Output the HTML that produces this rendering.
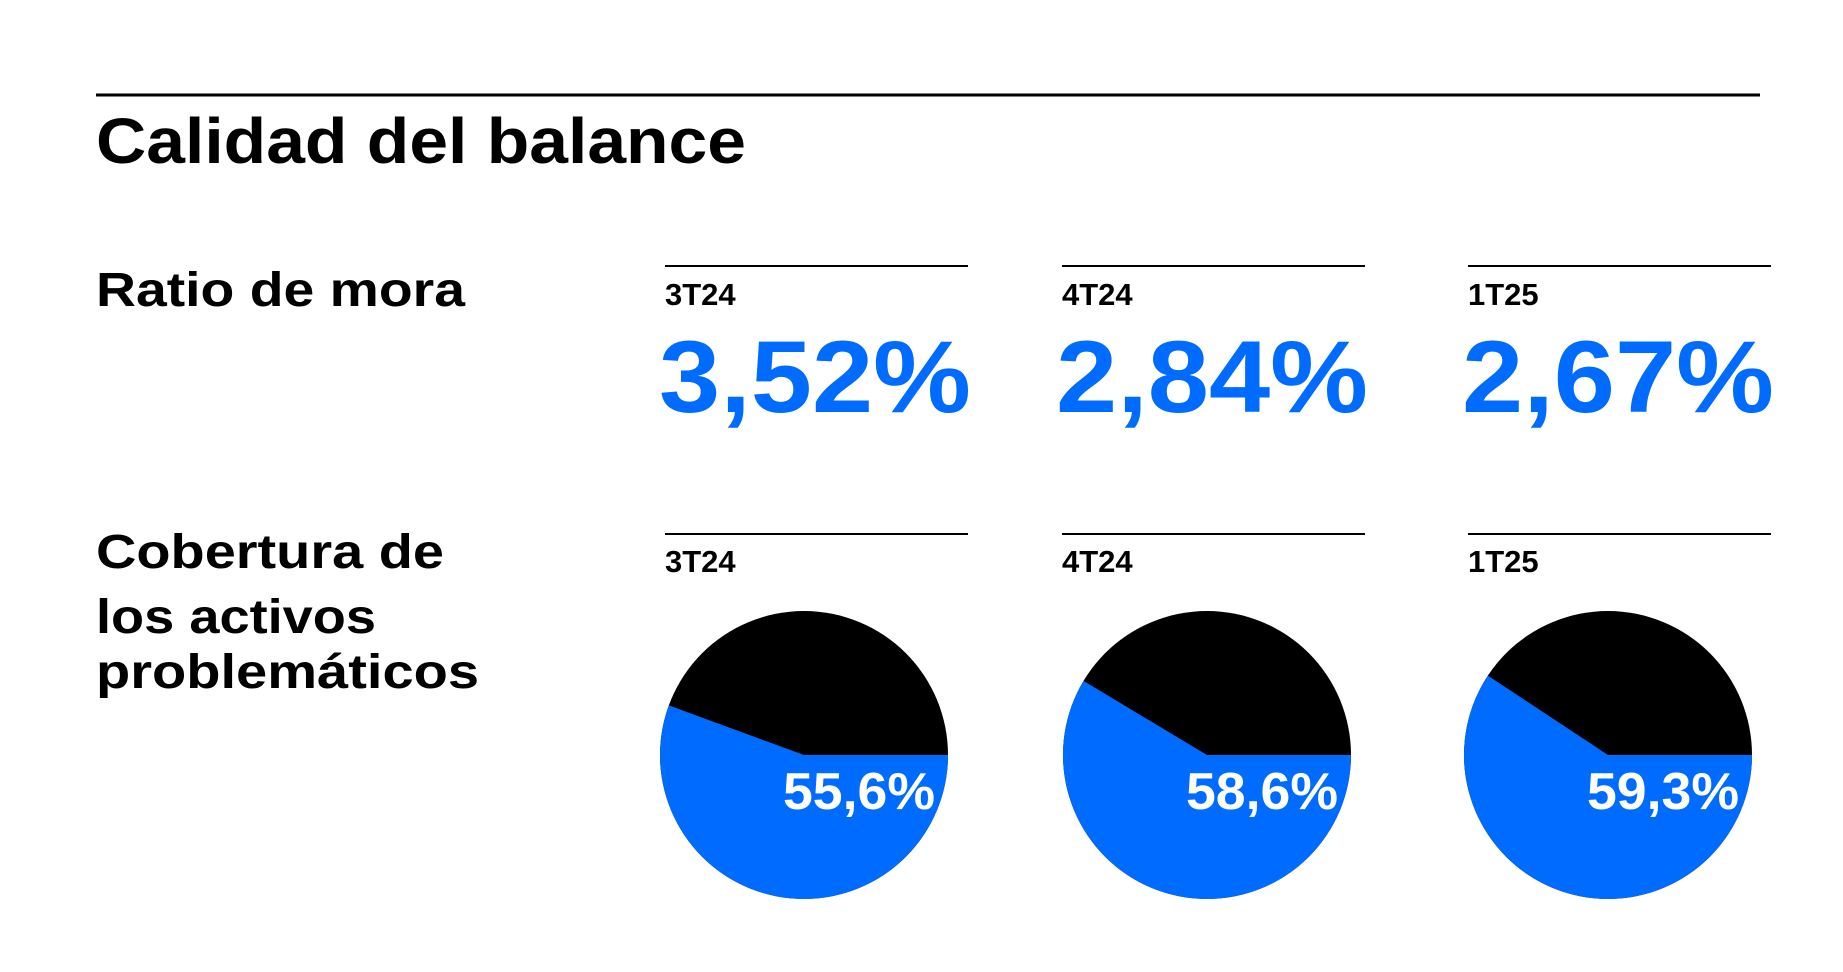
<!DOCTYPE html>
<html><head><meta charset="utf-8"><style>
html,body{margin:0;padding:0;background:#fff;}
svg{display:block;font-family:"Liberation Sans",Arial,sans-serif;}
</style></head><body>
<svg id="chart" width="1843" height="972" viewBox="0 0 1843 972" xmlns="http://www.w3.org/2000/svg">
<rect width="1843" height="972" fill="#fff"/>
<line x1="96" y1="95" x2="1760" y2="95" stroke="#000" stroke-width="3"/>
<text x="96" y="163" font-size="64" font-weight="bold" textLength="650" lengthAdjust="spacingAndGlyphs">Calidad del balance</text>
<text x="96" y="306" font-size="48" font-weight="bold" textLength="369" lengthAdjust="spacingAndGlyphs">Ratio de mora</text>
<text font-size="48" font-weight="bold">
<tspan x="96" y="568" textLength="348" lengthAdjust="spacingAndGlyphs">Cobertura de</tspan>
<tspan x="96" y="633" textLength="280" lengthAdjust="spacingAndGlyphs">los activos</tspan>
<tspan x="96" y="688" textLength="383" lengthAdjust="spacingAndGlyphs">problemáticos</tspan>
</text>
<g id="cols"></g>
</svg>
<script>
const periods = ["3T24","4T24","1T25"];
const moraValues = [3.52, 2.84, 2.67];
const coverageValues = [55.6, 58.6, 59.3];
const NS = "http://www.w3.org/2000/svg";
const g = document.getElementById("cols");
const colX = [665, 1062, 1468];
const pieCx = [804, 1207, 1608];
const pieCy = 755, R = 144;
function fmt(v, d){ return v.toFixed(d).replace(".", ","); }
function mk(tag, attrs){ const e=document.createElementNS(NS,tag); for(const k in attrs) e.setAttribute(k, attrs[k]); g.appendChild(e); return e; }
periods.forEach((p,i)=>{
  const x = colX[i];
  let l = mk("line",{x1:x, y1:266, x2:x+303, y2:266, stroke:"#000","stroke-width":2});
  
  
  let t = mk("text",{x:x, y:305, "font-size":31, "font-weight":"bold"});
  t.textContent = p;
  
  
  let v = mk("text",{x:x-6, y:412, "font-size":102, "font-weight":"bold", fill:"#006cff", textLength:312, lengthAdjust:"spacingAndGlyphs"});
  v.textContent = fmt(moraValues[i],2) + "%";
  
  
  let l2 = mk("line",{x1:x, y1:534, x2:x+303, y2:534, stroke:"#000","stroke-width":2});
  
  
  let t2 = mk("text",{x:x, y:572, "font-size":31, "font-weight":"bold"});
  t2.textContent = p;
  
  
  const cx = pieCx[i];
  let c = mk("circle",{cx:cx, cy:pieCy, r:R, fill:"#000"});
  
  
  const a = coverageValues[i]/100*2*Math.PI;
  const ex = cx + R*Math.cos(a), ey = pieCy + R*Math.sin(a);
  const large = a > Math.PI ? 1 : 0;
  let s = mk("path",{d:`M${cx},${pieCy} L${cx+R},${pieCy} A${R},${R} 0 ${large} 1 ${ex},${ey} Z`, fill:"#006cff"});
  
  
  let pl = mk("text",{x:cx+131, y:pieCy+54, "font-size":52, "font-weight":"bold", fill:"#fff", "text-anchor":"end", textLength:152, lengthAdjust:"spacingAndGlyphs"});
  pl.textContent = fmt(coverageValues[i],1) + "%";
  
  
});
</script>
</body></html>
